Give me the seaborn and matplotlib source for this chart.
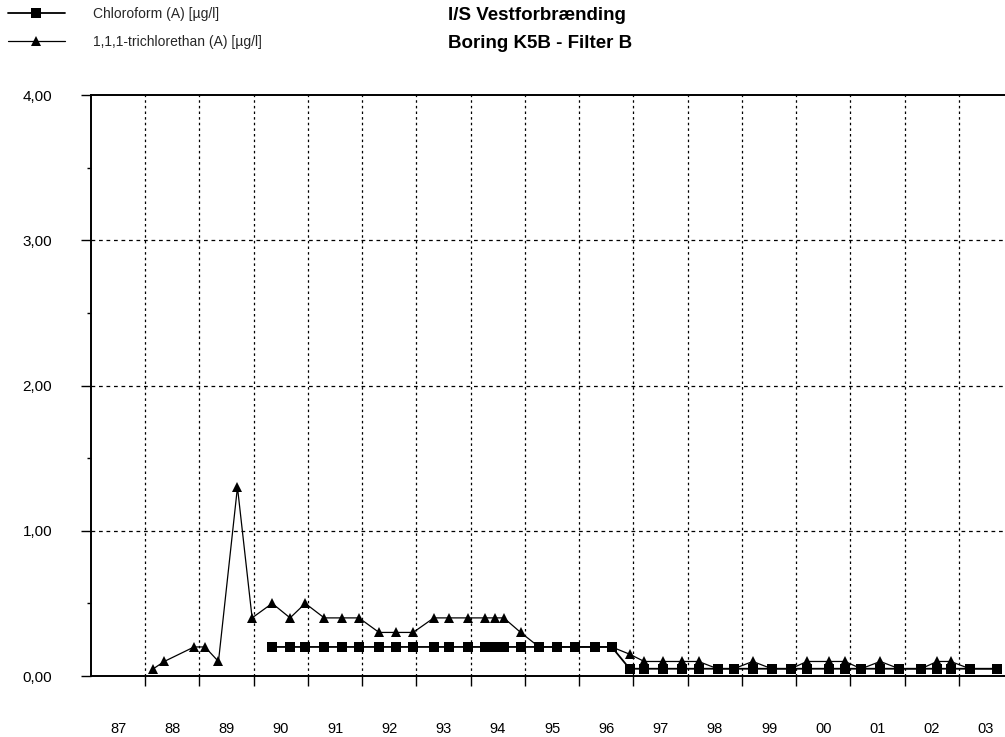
import matplotlib
matplotlib.use("Agg")
import matplotlib.pyplot as plt
import seaborn as sns
import numpy as np
import pandas as pd
from matplotlib.ticker import FixedLocator, FuncFormatter, MultipleLocator, NullFormatter

# Sampling dates (decimal years) and measured concentrations in µg/l
sample_dates = [
    1988.15, 1988.35, 1988.90, 1989.10, 1989.35, 1989.70, 1989.97,
    1990.34, 1990.67, 1990.95, 1991.30, 1991.63, 1991.94, 1992.31,
    1992.62, 1992.94, 1993.32, 1993.60, 1993.95, 1994.26, 1994.45,
    1994.61, 1994.92, 1995.26, 1995.59, 1995.92, 1996.29, 1996.60,
    1996.93, 1997.20, 1997.55, 1997.90, 1998.20, 1998.55, 1998.85,
    1999.20, 1999.55, 1999.90, 2000.20, 2000.60, 2000.90, 2001.20,
    2001.55, 2001.90, 2002.30, 2002.60, 2002.85, 2003.20, 2003.70,
]

chloroform = [
    np.nan, np.nan, np.nan, np.nan, np.nan, np.nan, np.nan,
    0.20, 0.20, 0.20, 0.20, 0.20, 0.20, 0.20,
    0.20, 0.20, 0.20, 0.20, 0.20, 0.20, 0.20,
    0.20, 0.20, 0.20, 0.20, 0.20, 0.20, 0.20,
    0.05, 0.05, 0.05, 0.05, 0.05, 0.05, 0.05,
    0.05, 0.05, 0.05, 0.05, 0.05, 0.05, 0.05,
    0.05, 0.05, 0.05, 0.05, 0.05, 0.05, 0.05,
]

trichlorethan = [
    0.05, 0.10, 0.20, 0.20, 0.10, 1.30, 0.40,
    0.50, 0.40, 0.50, 0.40, 0.40, 0.40, 0.30,
    0.30, 0.30, 0.40, 0.40, 0.40, 0.40, 0.40,
    0.40, 0.30, 0.20, 0.20, 0.20, 0.20, 0.20,
    0.15, 0.10, 0.10, 0.10, 0.10, 0.05, 0.05,
    0.10, 0.05, 0.05, 0.10, 0.10, 0.10, 0.05,
    0.10, 0.05, 0.05, 0.10, 0.10, 0.05, 0.05,
]

years = [1987, 1988, 1989, 1990, 1991, 1992, 1993, 1994, 1995,
         1996, 1997, 1998, 1999, 2000, 2001, 2002, 2003]
year_labels = ["87", "88", "89", "90", "91", "92", "93", "94", "95",
               "96", "97", "98", "99", "00", "01", "02", "03"]

label_chloro = "Chloroform (A) [µg/l]"
label_tca = "1,1,1-trichlorethan (A) [µg/l]"

sns.set_theme(style="white")
plt.rcParams["font.family"] = ["Liberation Sans", "DejaVu Sans"]

W, H = 1005, 737
fig = plt.figure(figsize=(W / 100, H / 100), dpi=100)
ax = fig.add_axes([91 / W, 1 - 676 / H, 1 - 91 / W, (676 - 95) / H])

df = pd.DataFrame({"dato": sample_dates,
                   "chloroform": chloroform,
                   "trichlorethan": trichlorethan})

sns.lineplot(data=df, x="dato", y="chloroform", ax=ax, color="black",
             linewidth=1.3, marker="s", markersize=6.5, markeredgewidth=0,
             label=label_chloro, zorder=4)
sns.lineplot(data=df, x="dato", y="trichlorethan", ax=ax, color="black",
             linewidth=0.9, marker="^", markersize=7.5, markeredgewidth=0,
             label=label_tca, zorder=3)

ax.set_xlim(1987.0, 2003.85)
ax.set_ylim(0, 4)
ax.set_xlabel("")
ax.set_ylabel("")


def year_label(v, pos):
    i = int(round(v - 0.5)) - years[0]
    return year_labels[i] if 0 <= i < len(year_labels) else ""


# x axis: ticks on year boundaries, year labels centred in each year
ax.xaxis.set_major_locator(FixedLocator(years[1:]))
ax.xaxis.set_major_formatter(NullFormatter())
ax.xaxis.set_minor_locator(FixedLocator([y + 0.5 for y in years]))
ax.xaxis.set_minor_formatter(FuncFormatter(year_label))
ax.tick_params(axis="x", which="major", direction="out", length=7,
               width=1.0, color="black", bottom=True)
ax.tick_params(axis="x", which="minor", length=0, pad=33,
               labelsize=10.5, labelcolor="black")

# y axis: 0,00 ... 4,00 with half-unit minor ticks
ax.yaxis.set_major_locator(MultipleLocator(1))
ax.yaxis.set_minor_locator(MultipleLocator(0.5))
ax.yaxis.set_major_formatter(FuncFormatter(lambda v, pos: f"{v:.2f}".replace(".", ",")))
ax.tick_params(axis="y", which="major", direction="out", length=7,
               width=1.0, color="black", left=True, pad=21,
               labelsize=11, labelcolor="black")
ax.tick_params(axis="y", which="minor", direction="out", length=3,
               width=1.0, color="black", left=True)

ax.grid(False)
for y in [1, 2, 3]:
    ax.axhline(y, color="black", linewidth=0.9, linestyle=(0, (3, 3)), zorder=1)
for x in years[1:]:
    ax.axvline(x, color="black", linewidth=0.9, linestyle=(0, (2, 2.5)), zorder=1)

for side in ["top", "left", "bottom"]:
    ax.spines[side].set_visible(True)
    ax.spines[side].set_color("black")
    ax.spines[side].set_linewidth(1.4)
ax.spines["right"].set_visible(False)
ax.set_facecolor("white")

sns.move_legend(ax, loc="upper left", bbox_to_anchor=(8 / W, 1 - 7 / H),
                bbox_transform=fig.transFigure, frameon=False, fontsize=10,
                handlelength=4.1, handletextpad=2.0, labelspacing=1.0,
                borderpad=0, borderaxespad=0, title=None)

fig.text(448 / W, 1 - 15 / H, "I/S Vestforbrænding", fontsize=13.5,
         fontweight="bold", ha="left", va="center", color="black")
fig.text(448 / W, 1 - 43 / H, "Boring K5B - Filter B", fontsize=13.5,
         fontweight="bold", ha="left", va="center", color="black")

fig.savefig("out.png", dpi=100, facecolor="white")
